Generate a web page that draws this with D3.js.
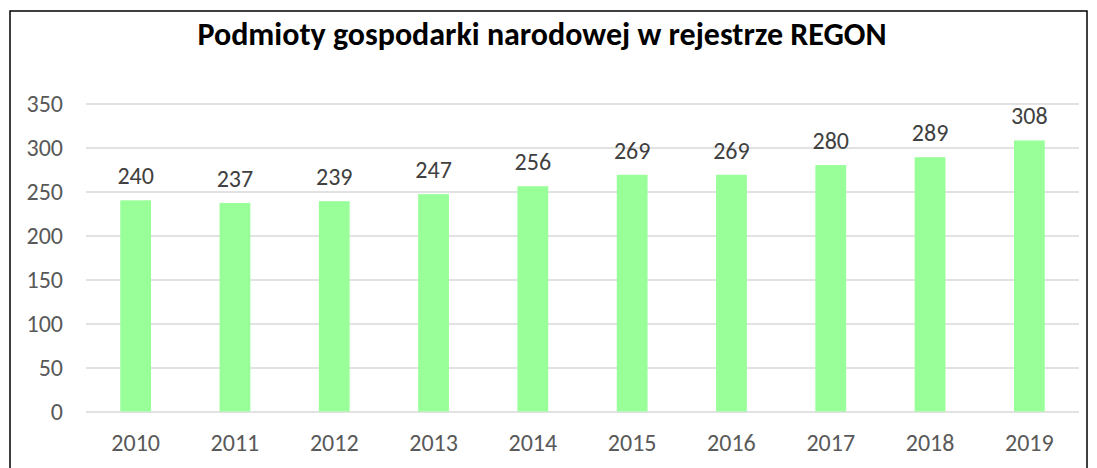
<!DOCTYPE html>
<html><head><meta charset="utf-8">
<script src="https://cdn.jsdelivr.net/npm/d3@7"></script>
<style>body{margin:0;background:#fff}svg{display:block}</style>
</head><body>
<script>
const years = ["2010","2011","2012","2013","2014","2015","2016","2017","2018","2019"];
const values = [240,237,239,247,256,269,269,280,289,308];
const yTicks = [0,50,100,150,200,250,300,350];
const title = "Podmioty gospodarki narodowej w rejestrze REGON";

const W=1097,H=468;
const svg=d3.select("body").append("svg").attr("width",W).attr("height",H);
svg.append("rect").attr("x",10).attr("y",11).attr("width",1077).attr("height",470)
  .attr("fill","#fff").attr("stroke","#000").attr("stroke-width",1.5);

const font="Carlito, Lato, 'Open Sans', sans-serif";
const x=d3.scaleBand().domain(years).range([86,1079]).paddingInner(0.69).paddingOuter(0.345);
const y=d3.scaleLinear().domain([0,350]).range([411.5,103.5]);

svg.append("text").attr("x",542).attr("y",45).attr("text-anchor","middle")
  .attr("font-family",font).attr("font-weight","bold").attr("font-size",32).attr("fill","#000").text(title);

const gy=svg.append("g").attr("transform","translate(86,0)")
  .call(d3.axisLeft(y).tickValues(yTicks).tickSize(-(1079-86)).tickPadding(23));
gy.select(".domain").remove();
gy.selectAll(".tick line").attr("stroke","#d9d9d9").attr("stroke-width",1.5);
gy.selectAll(".tick text").attr("font-family",font).attr("font-size",24).attr("fill","#595959");

const gx=svg.append("g").attr("transform","translate(0,411.5)")
  .call(d3.axisBottom(x).tickSize(0).tickPadding(22));
gx.select(".domain").remove();
gx.selectAll(".tick text").attr("font-family",font).attr("font-size",24).attr("fill","#595959");

svg.selectAll("rect.bar").data(values).enter().append("rect").attr("class","bar")
  .attr("x",(d,i)=>x(years[i])).attr("width",x.bandwidth())
  .attr("y",d=>y(d)).attr("height",d=>y(0)-y(d)).attr("fill","#99ff99");

svg.selectAll("text.lbl").data(values).enter().append("text").attr("class","lbl")
  .attr("x",(d,i)=>x(years[i])+x.bandwidth()/2).attr("y",d=>y(d)-16)
  .attr("text-anchor","middle").attr("font-family",font).attr("font-size",24).attr("fill","#404040").text(d=>d);
</script>
</body></html>
